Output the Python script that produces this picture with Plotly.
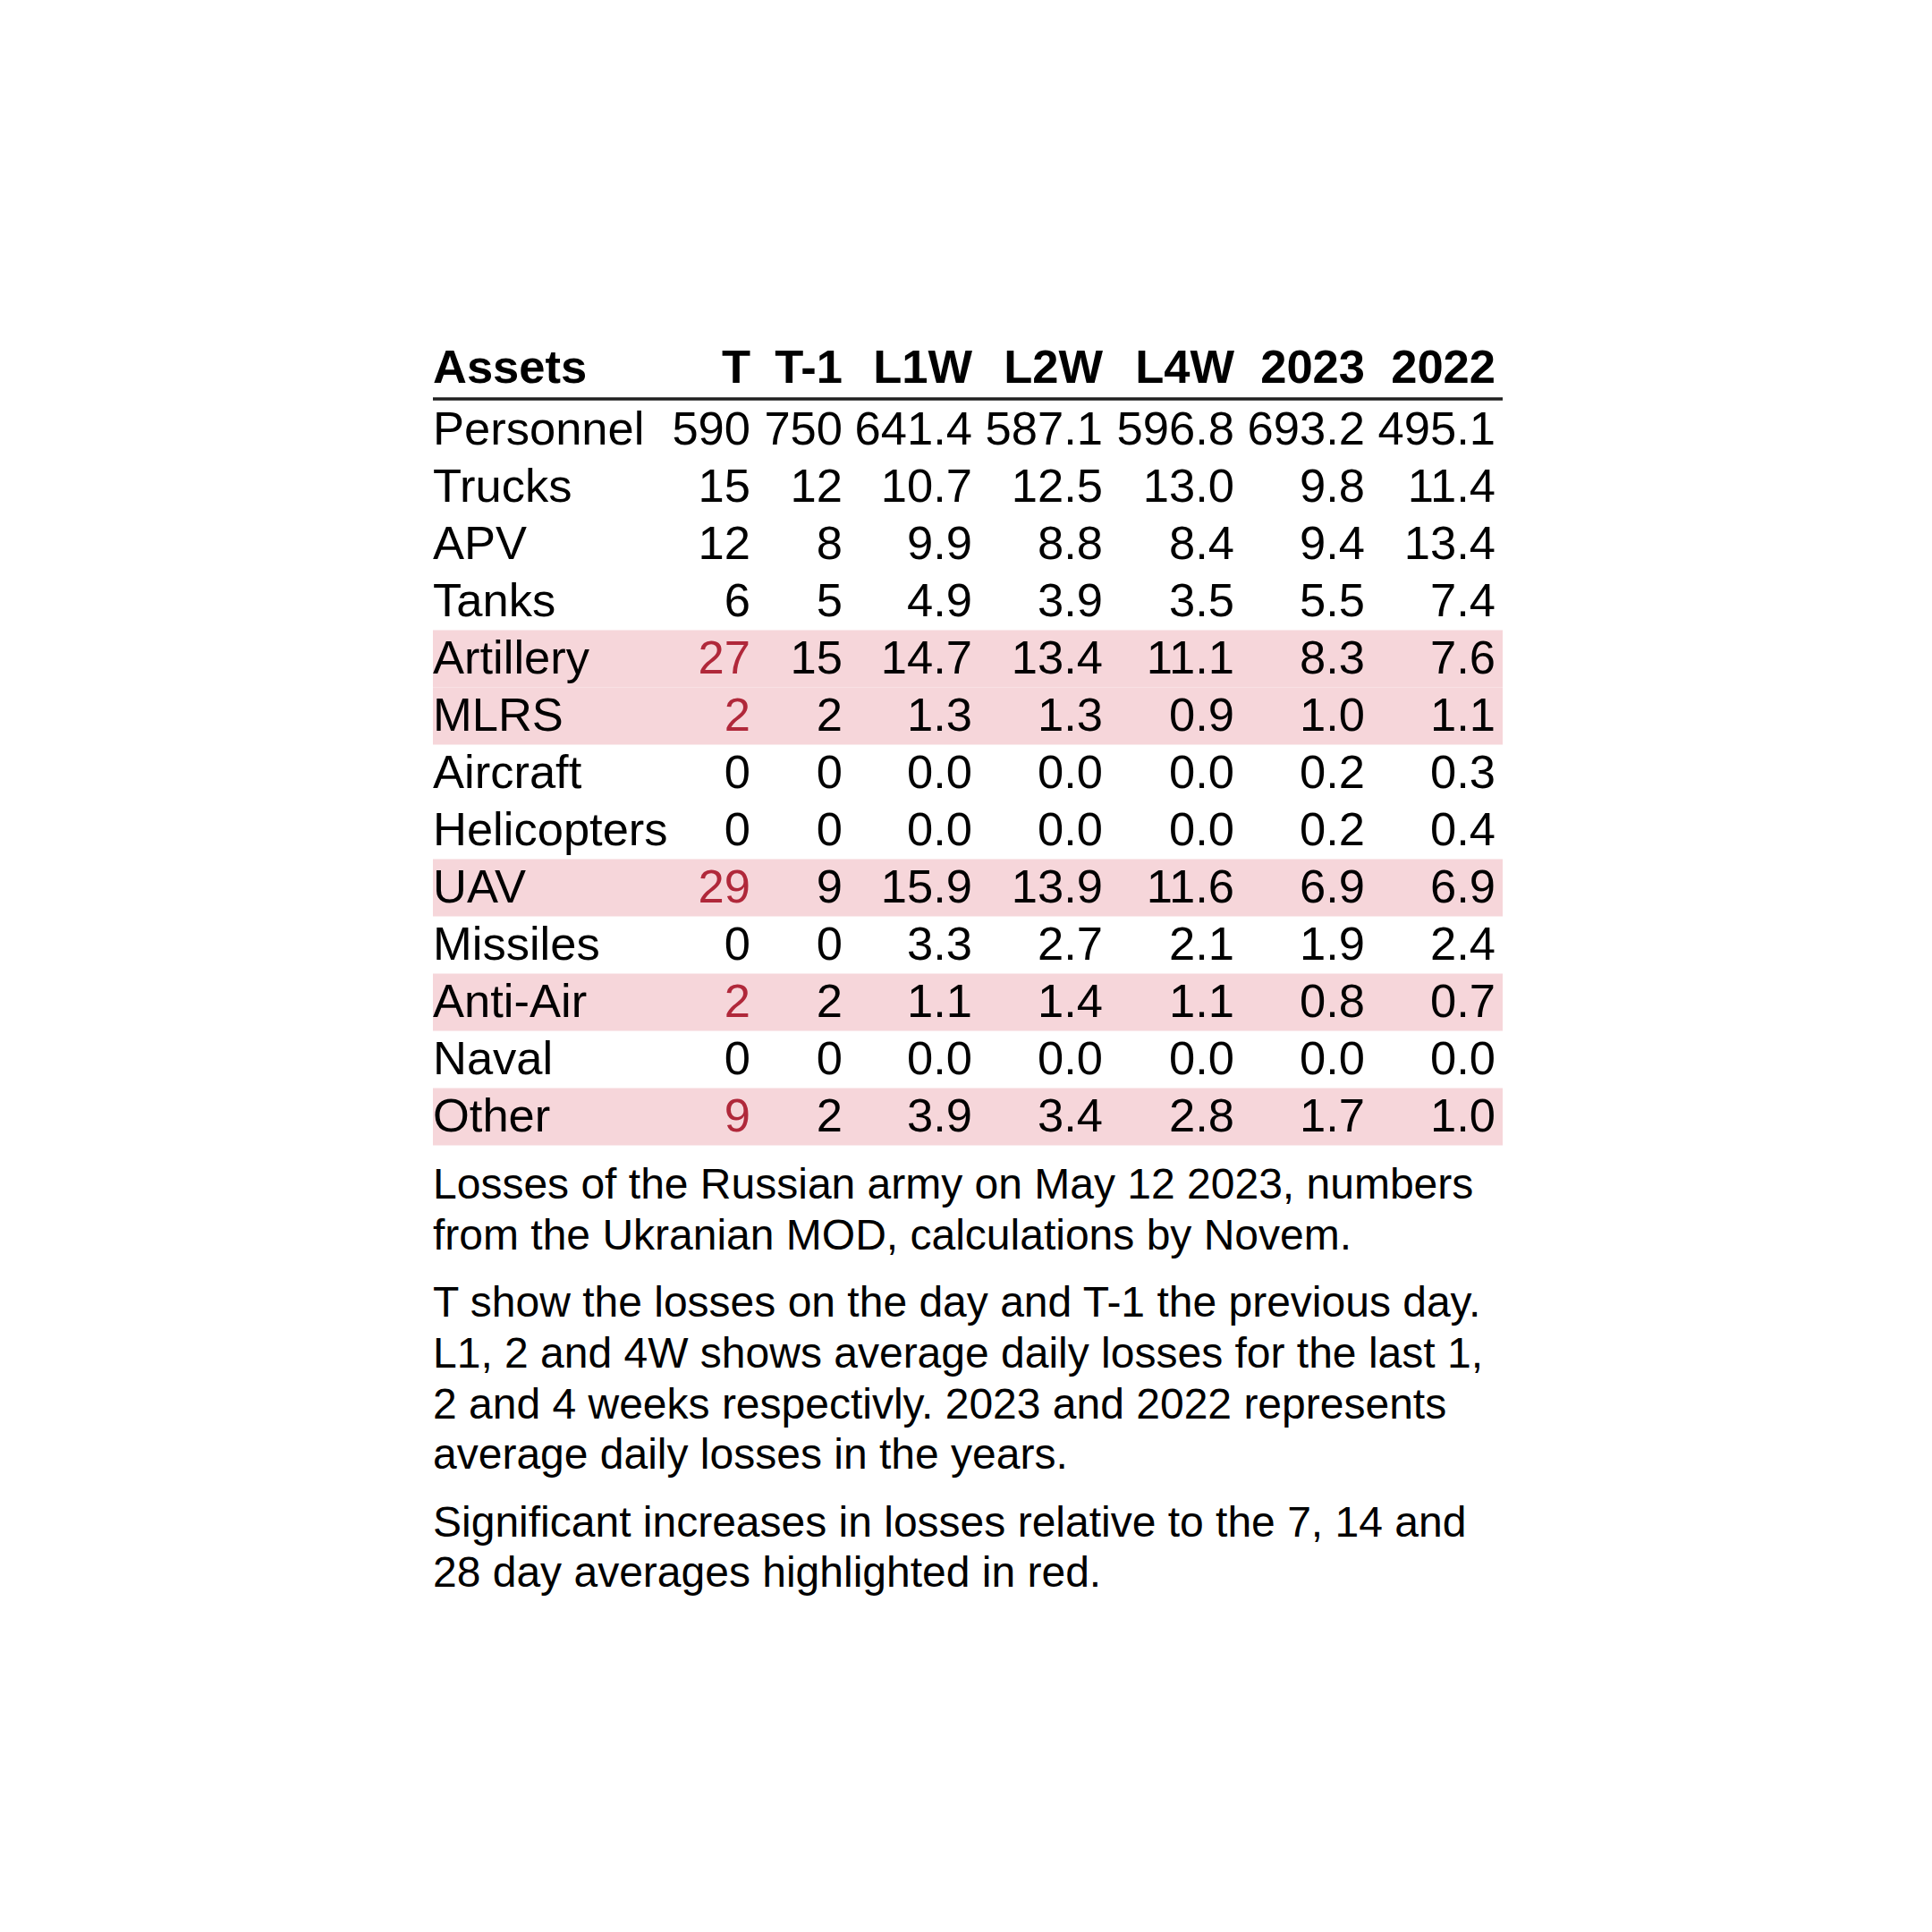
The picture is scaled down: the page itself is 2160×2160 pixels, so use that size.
import plotly.graph_objects as go

# ---------------- data ----------------
assets = ["Personnel", "Trucks", "APV", "Tanks", "Artillery", "MLRS", "Aircraft",
          "Helicopters", "UAV", "Missiles", "Anti-Air", "Naval", "Other"]
col_T = [590, 15, 12, 6, 27, 2, 0, 0, 29, 0, 2, 0, 9]
col_T1 = [750, 12, 8, 5, 15, 2, 0, 0, 9, 0, 2, 0, 2]
col_L1W = [641.4, 10.7, 9.9, 4.9, 14.7, 1.3, 0.0, 0.0, 15.9, 3.3, 1.1, 0.0, 3.9]
col_L2W = [587.1, 12.5, 8.8, 3.9, 13.4, 1.3, 0.0, 0.0, 13.9, 2.7, 1.4, 0.0, 3.4]
col_L4W = [596.8, 13.0, 8.4, 3.5, 11.1, 0.9, 0.0, 0.0, 11.6, 2.1, 1.1, 0.0, 2.8]
col_2023 = [693.2, 9.8, 9.4, 5.5, 8.3, 1.0, 0.2, 0.2, 6.9, 1.9, 0.8, 0.0, 1.7]
col_2022 = [495.1, 11.4, 13.4, 7.4, 7.6, 1.1, 0.3, 0.4, 6.9, 2.4, 0.7, 0.0, 1.0]
headers = ["Assets", "T", "T-1", "L1W", "L2W", "L4W", "2023", "2022"]
highlighted = ["Artillery", "MLRS", "UAV", "Anti-Air", "Other"]

notes = [
    ["Losses of the Russian army on May 12 2023, numbers",
     "from the Ukranian MOD, calculations by Novem."],
    ["T show the losses on the day and T-1 the previous day.",
     "L1, 2 and 4W shows average daily losses for the last 1,",
     "2 and 4 weeks respectivly. 2023 and 2022 represents",
     "average daily losses in the years."],
    ["Significant increases in losses relative to the 7, 14 and",
     "28 day averages highlighted in red."],
]

# ---------------- layout constants ----------------
W = H = 2160
FONT = "Liberation Sans, Arial, sans-serif"
FS = 52.5
NOTE_FS = 48.0
PINK = "#f6d6da"
RED = "#b0283a"
LEFT, RIGHT = 484, 1680
ROW0, ROWH = 478.3, 64.0
HEADER_Y = 409.5
TEXT_DY = 5.5
BAND_OFF = 2.2
col_right = [839, 942, 1087, 1233, 1380, 1526, 1672]
NOTE_Y0, NOTE_STEP, NOTE_GAP = 1323.6, 56.6, 19.0

row_y = [ROW0 + i * ROWH for i in range(len(assets))]
txt_y = [y + TEXT_DY for y in row_y]
value_cols = [col_T, col_T1, col_L1W, col_L2W, col_L4W, col_2023, col_2022]
decimals = [0, 0, 1, 1, 1, 1, 1]

fig = go.Figure()

# highlight bands
hi_y = [row_y[assets.index(a)] + BAND_OFF for a in highlighted]
fig.add_trace(go.Bar(
    orientation="h", y=hi_y, x=[RIGHT - LEFT] * len(hi_y), base=LEFT,
    width=ROWH, marker=dict(color=PINK, line=dict(width=0)),
    hoverinfo="skip", showlegend=False))

# header
fig.add_trace(go.Scatter(
    x=[LEFT], y=[HEADER_Y + TEXT_DY], text=[headers[0]], mode="text",
    textposition="middle right",
    textfont=dict(family=FONT, size=FS, color="black", weight="bold"),
    hoverinfo="skip", showlegend=False))
fig.add_trace(go.Scatter(
    x=col_right, y=[HEADER_Y + TEXT_DY] * len(col_right), text=headers[1:],
    mode="text", textposition="middle left",
    textfont=dict(family=FONT, size=FS, color="black", weight="bold"),
    hoverinfo="skip", showlegend=False))

# asset names
fig.add_trace(go.Scatter(
    x=[LEFT] * len(assets), y=txt_y, text=assets, mode="text",
    textposition="middle right",
    textfont=dict(family=FONT, size=FS, color="black"),
    hoverinfo="skip", showlegend=False))

# value columns
for ci, (vals, dec, xr) in enumerate(zip(value_cols, decimals, col_right)):
    txt = [f"{v:.{dec}f}" for v in vals]
    if ci == 0:
        colors = [RED if a in highlighted else "black" for a in assets]
    else:
        colors = ["black"] * len(assets)
    fig.add_trace(go.Scatter(
        x=[xr] * len(vals), y=txt_y, text=txt, mode="text",
        textposition="middle left",
        textfont=dict(family=FONT, size=FS, color=colors),
        hoverinfo="skip", showlegend=False))

# header underline
fig.add_shape(type="line", xref="x", yref="y", x0=LEFT, x1=RIGHT, y0=446, y1=446,
              line=dict(color="#1f1f1f", width=3.5))

# footnotes
y = NOTE_Y0
for p, para in enumerate(notes):
    for line in para:
        fig.add_annotation(x=LEFT - 2, y=y, xref="x", yref="y", text=line,
                           showarrow=False, xanchor="left", yanchor="middle",
                           font=dict(family=FONT, size=NOTE_FS, color="black"))
        y += NOTE_STEP
    y += NOTE_GAP

fig.update_layout(
    width=W, height=H, margin=dict(l=0, r=0, t=0, b=0, pad=0),
    paper_bgcolor="white", plot_bgcolor="white",
    xaxis=dict(range=[0, W], visible=False, fixedrange=True),
    yaxis=dict(range=[H, 0], visible=False, fixedrange=True),
    showlegend=False,
)

fig.write_html("out.html", config={"displayModeBar": False, "staticPlot": True},
               post_script="document.body.style.margin='0';")
